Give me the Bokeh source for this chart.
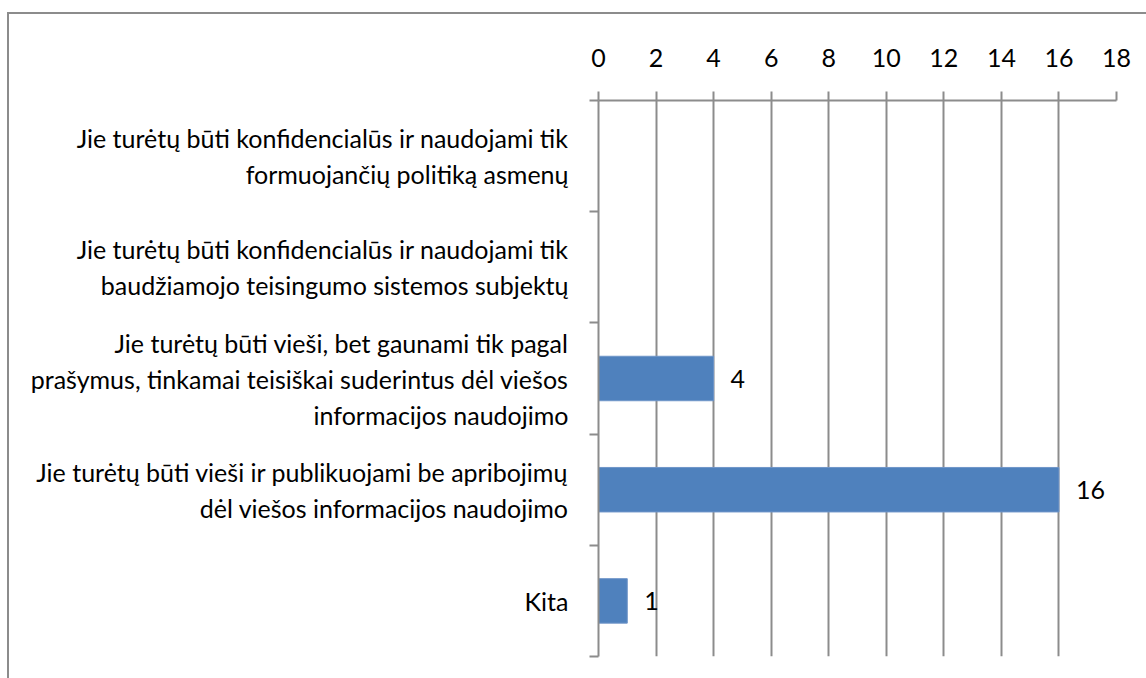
from bokeh.plotting import figure
from bokeh.models import Range1d, FixedTicker, ColumnDataSource
from bokeh.embed import file_html
from bokeh.resources import INLINE
from bokeh.core.properties import value

categories = [
    "Jie turėtų būti konfidencialūs ir naudojami tik\nformuojančių politiką asmenų",
    "Jie turėtų būti konfidencialūs ir naudojami tik\nbaudžiamojo teisingumo sistemos subjektų",
    "Jie turėtų būti vieši, bet gaunami tik pagal\nprašymus, tinkamai teisiškai suderintus dėl viešos\ninformacijos naudojimo",
    "Jie turėtų būti vieši ir publikuojami be apribojimų\ndėl viešos informacijos naudojimo",
    "Kita",
]
values = [0, 0, 4, 16, 1]
x_ticks = [0, 2, 4, 6, 8, 10, 12, 14, 16, 18]

FONT = "Lato"
FS = "25px"
GRAY = "#8c8c8c"
n = len(categories)
ypos = [n - i - 0.5 for i in range(n)]

p = figure(width=1137, height=664, output_backend="svg", toolbar_location=None,
           x_range=Range1d(0, 18), y_range=Range1d(0, n), x_axis_location="above",
           min_border_left=589, min_border_right=30, min_border_top=86, min_border_bottom=22)
p.margin = (14, 0, 0, 9)
p.styles = {"outline": "2px solid #8c8c8c"}
p.outline_line_color = None
p.background_fill_color = "white"
p.border_fill_color = "white"

src = ColumnDataSource(dict(y=ypos, v=values))
p.hbar(y="y", right="v", left=0, height=0.4, source=src, fill_color="#4F81BD", line_color="#6f95c8", line_width=1)

lab_y = [y for y, v in zip(ypos, values) if v > 0]
lab_v = [v for v in values if v > 0]
lsrc = ColumnDataSource(dict(y=lab_y, x=lab_v, t=[str(v) for v in lab_v]))
p.text(x="x", y="y", text="t", source=lsrc, x_offset=17, text_align="left", text_baseline="middle",
       text_font=value(FONT), text_font_size=FS, text_color="#000000")

xa = p.xaxis[0]
xa.ticker = FixedTicker(ticks=x_ticks)
xa.major_tick_out = 9
xa.major_tick_in = 0
xa.minor_tick_out = 0
xa.minor_tick_in = 0
xa.axis_line_color = GRAY
xa.axis_line_width = 2
xa.major_tick_line_color = GRAY
xa.major_tick_line_width = 2
xa.major_label_text_font = FONT
xa.major_label_text_font_size = FS
xa.major_label_text_color = "#000000"
xa.major_label_standoff = 25

ya = p.yaxis[0]
ya.ticker = FixedTicker(ticks=ypos, minor_ticks=list(range(n + 1)))
ya.major_label_overrides = {y: c for y, c in zip(ypos, categories)}
ya.major_tick_out = 0
ya.major_tick_in = 0
ya.minor_tick_out = 9
ya.minor_tick_in = 0
ya.minor_tick_line_color = GRAY
ya.minor_tick_line_width = 2
ya.axis_line_color = GRAY
ya.axis_line_width = 2
ya.major_label_text_font = FONT
ya.major_label_text_font_size = FS
ya.major_label_text_color = "#000000"
ya.major_label_text_align = "center"
ya.major_label_text_line_height = 1.2
ya.major_label_standoff = 21

p.xgrid.ticker = FixedTicker(ticks=x_ticks)
p.xgrid.grid_line_color = GRAY
p.xgrid.grid_line_width = 2
p.ygrid.grid_line_color = None

open("out.html", "w").write(file_html(p, INLINE))
